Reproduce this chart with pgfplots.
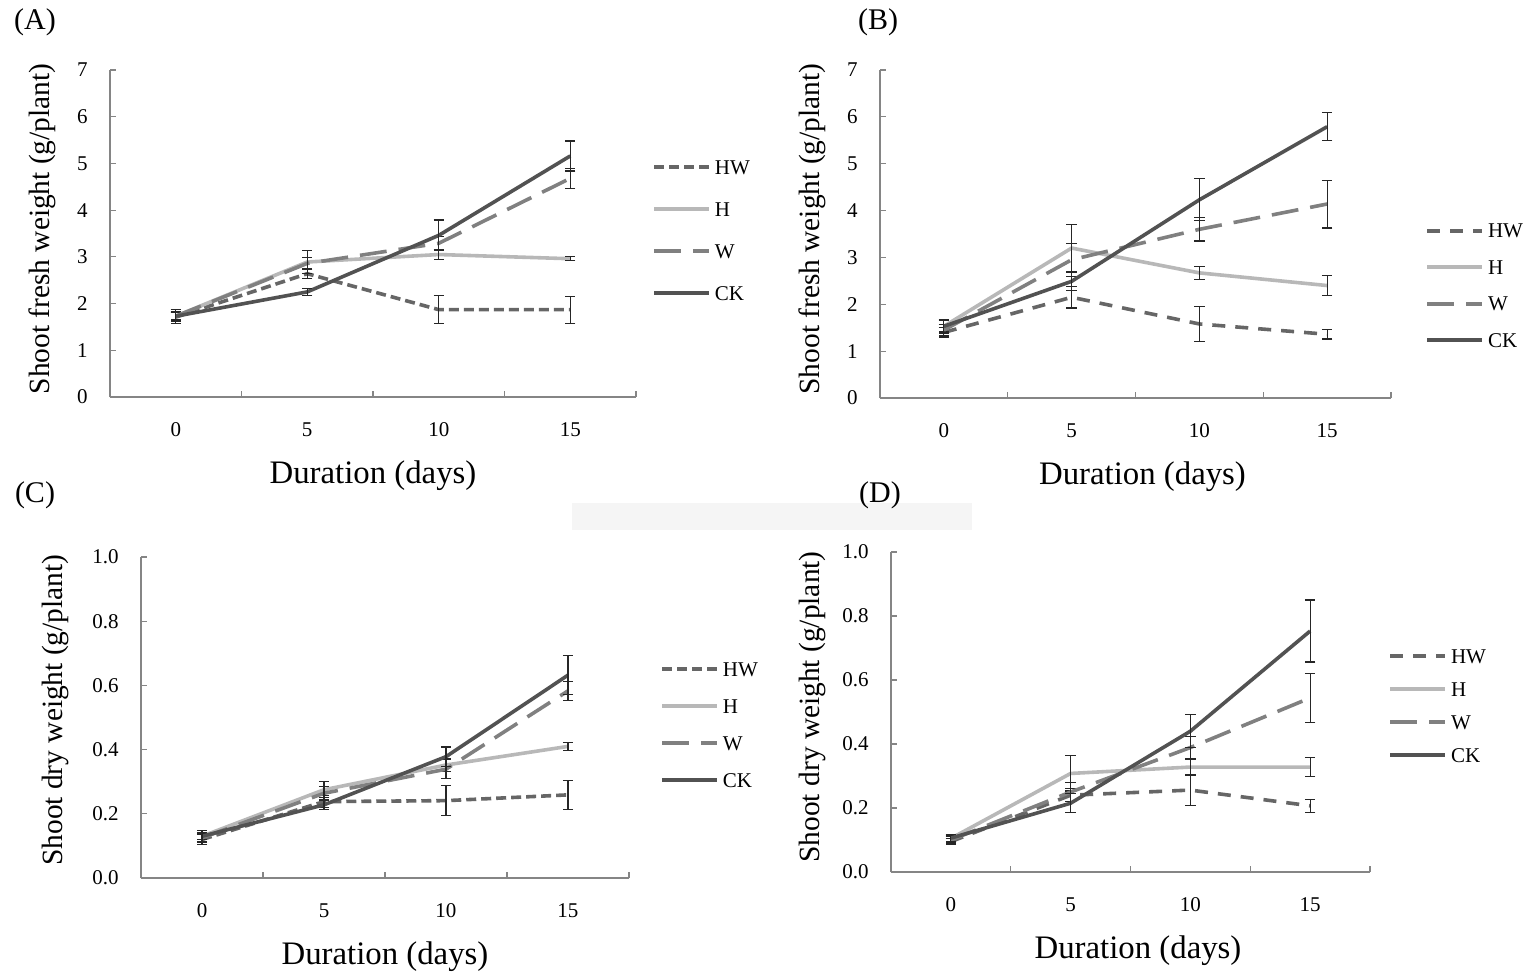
\documentclass[border=0pt]{standalone}
\usepackage{pgfplots}
\pgfplotsset{compat=1.18}
\usepackage{fontspec}
\setmainfont{Liberation Serif}

\definecolor{axgray}{gray}{0.52}
\definecolor{ckcol}{gray}{0.32}
\definecolor{wcol}{gray}{0.50}
\definecolor{hcol}{gray}{0.72}
\definecolor{hwcol}{gray}{0.40}

\pgfplotsset{
  panel/.style={
    scale only axis, anchor=south west,
    xmin=-0.5, xmax=3.5,
    axis x line*=bottom, axis y line*=left,
    axis line style={draw=axgray, line width=0.6pt},
    tick align=inside,
    tick style={draw=axgray, line width=0.6pt},
    major tick length=3pt,
    xtick={-0.5,0.5,1.5,2.5,3.5}, xticklabels={},
    extra x ticks={0,1,2,3}, extra x tick labels={0,5,10,15},
    extra x tick style={major tick length=0pt},
    /pgf/number format/assume math mode=true,
    tick label style={font=\fontsize{10.5}{12}\selectfont},
    yticklabel style={anchor=east, inner sep=0pt, xshift=-11pt},
    xticklabel style={anchor=north, inner sep=0pt, yshift=-12.8pt},
    xlabel={Duration (days)},
    x label style={at={(axis description cs:0.5,0)}, anchor=center, yshift=-39.5pt,
      font=\fontsize{16.4}{18}\selectfont},
    y label style={anchor=center, font=\fontsize{14.7}{16}\selectfont},
    error bars/y dir=both, error bars/y explicit,
    error bars/error bar style={line width=0.6pt, black!85, solid},
    error bars/error mark options={rotate=90, mark size=2.6pt, line width=0.6pt, black!85, solid},
    legend style={draw=none, fill=none, anchor=west, inner sep=0pt,
      font=\fontsize{10.5}{12}\selectfont, column sep=2pt,
      nodes={inner sep=0pt, text height=7pt, text depth=0pt, anchor=west}},
    legend cell align=left,
    legend image code/.code={\draw[#1] (0pt,0pt) -- (27.5pt,0pt);},
  },
  hwA/.style={hwcol, line width=1.8pt, dash pattern=on 5pt off 2.5pt},
  hwB/.style={hwcol, line width=1.8pt, dash pattern=on 6.5pt off 5pt},
  hst/.style={hcol, line width=1.8pt},
  wst/.style={wcol, line width=1.8pt, dash pattern=on 13.5pt off 6pt},
  ckst/.style={ckcol, line width=1.8pt},
}

\begin{document}
\begin{tikzpicture}
\useasboundingbox (0,0) rectangle (764.5pt,-486.5pt);
\fill[black!4] (286pt,-251.5pt) rectangle (486pt,-265pt);

\node[font=\fontsize{15}{17}\selectfont] at (17.5pt,-11pt) {(A)};
\node[font=\fontsize{15}{17}\selectfont] at (439pt,-11pt) {(B)};
\node[font=\fontsize{15}{17}\selectfont] at (17.5pt,-247.5pt) {(C)};
\node[font=\fontsize{15}{17}\selectfont] at (440pt,-247.5pt) {(D)};

% (A) shoot fresh weight
\begin{axis}[panel, at={(55pt,-198.5pt)}, width=263pt, height=163.5pt,
  ymin=0, ymax=7, ytick={0,1,...,7},
  ylabel={Shoot fresh weight (g/plant)},
  y label style={at={(axis description cs:-0.1293,0.514)}},
  legend style={at={(axis description cs:1.0304,0.5107)}, row sep=14pt}]
\addplot[hwA] coordinates {(0,1.71) +- (0,0.10) (1,2.64) +- (0,0.10) (2,1.87) +- (0,0.30) (3,1.87) +- (0,0.29)};
\addplot[hst] coordinates {(0,1.73) +- (0,0.08) (1,2.89) +- (0,0.24) (2,3.05) +- (0,0.10) (3,2.96) +- (0,0.04)};
\addplot[wst] coordinates {(0,1.73) +- (0,0.10) (1,2.86) +- (0,0.12) (2,3.29) +- (0,0.15) (3,4.68) +- (0,0.22)};
\addplot[ckst] coordinates {(0,1.73) +- (0,0.15) (1,2.25) +- (0,0.08) (2,3.46) +- (0,0.33) (3,5.16) +- (0,0.32)};
\legend{HW,H,W,CK}
\end{axis}

% (B)
\begin{axis}[panel, at={(440pt,-199pt)}, width=255.5pt, height=164pt,
  ymin=0, ymax=7, ytick={0,1,...,7},
  ylabel={Shoot fresh weight (g/plant)},
  y label style={at={(axis description cs:-0.1331,0.515)}},
  x label style={xshift=3.5pt},
  legend style={at={(axis description cs:1.0665,0.343)}, row sep=11.2pt}]
\addplot[hwB] coordinates {(0,1.40) +- (0,0.10) (1,2.15) +- (0,0.23) (2,1.58) +- (0,0.37) (3,1.36) +- (0,0.10)};
\addplot[hst] coordinates {(0,1.53) +- (0,0.12) (1,3.20) +- (0,0.50) (2,2.67) +- (0,0.14) (3,2.40) +- (0,0.21)};
\addplot[wst] coordinates {(0,1.45) +- (0,0.12) (1,2.95) +- (0,0.35) (2,3.60) +- (0,0.25) (3,4.14) +- (0,0.51)};
\addplot[ckst] coordinates {(0,1.53) +- (0,0.15) (1,2.49) +- (0,0.20) (2,4.23) +- (0,0.45) (3,5.79) +- (0,0.30)};
\legend{HW,H,W,CK}
\end{axis}

% (C) shoot dry weight
\begin{axis}[panel, at={(70.5pt,-439pt)}, width=244pt, height=160.5pt,
  ymin=0, ymax=1, ytick={0,0.2,...,1.0},
  yticklabel style={/pgf/number format/.cd, fixed, fixed zerofill, precision=1},
  ylabel={Shoot dry weight (g/plant)},
  y label style={at={(axis description cs:-0.1762,0.523)}},
  legend style={at={(axis description cs:1.0635,0.478)}, row sep=11.5pt}]
\addplot[hwA] coordinates {(0,0.120) +- (0,0.015) (1,0.238) +- (0,0.018) (2,0.241) +- (0,0.047) (3,0.259) +- (0,0.045)};
\addplot[hst] coordinates {(0,0.130) +- (0,0.010) (1,0.275) +- (0,0.025) (2,0.352) +- (0,0.020) (3,0.410) +- (0,0.013)};
\addplot[wst] coordinates {(0,0.125) +- (0,0.012) (1,0.264) +- (0,0.020) (2,0.339) +- (0,0.030) (3,0.583) +- (0,0.030)};
\addplot[ckst] coordinates {(0,0.130) +- (0,0.018) (1,0.228) +- (0,0.015) (2,0.378) +- (0,0.030) (3,0.632) +- (0,0.060)};
\legend{HW,H,W,CK}
\end{axis}

% (D)
\begin{axis}[panel, at={(445.5pt,-436pt)}, width=239.5pt, height=160pt,
  ymin=0, ymax=1, ytick={0,0.2,...,1.0},
  yticklabel style={/pgf/number format/.cd, fixed, fixed zerofill, precision=1},
  ylabel={Shoot dry weight (g/plant)},
  y label style={at={(axis description cs:-0.1649,0.516)}},
  x label style={xshift=3.75pt},
  legend style={at={(axis description cs:1.0376,0.520)}, row sep=9.5pt}]
\addplot[hwB] coordinates {(0,0.095) +- (0,0.010) (1,0.240) +- (0,0.020) (2,0.256) +- (0,0.048) (3,0.207) +- (0,0.020)};
\addplot[hst] coordinates {(0,0.105) +- (0,0.010) (1,0.308) +- (0,0.055) (2,0.328) +- (0,0.025) (3,0.328) +- (0,0.030)};
\addplot[wst] coordinates {(0,0.100) +- (0,0.010) (1,0.250) +- (0,0.030) (2,0.389) +- (0,0.035) (3,0.544) +- (0,0.077)};
\addplot[ckst] coordinates {(0,0.106) +- (0,0.012) (1,0.215) +- (0,0.030) (2,0.440) +- (0,0.052) (3,0.753) +- (0,0.097)};
\legend{HW,H,W,CK}
\end{axis}
\end{tikzpicture}
\end{document}
